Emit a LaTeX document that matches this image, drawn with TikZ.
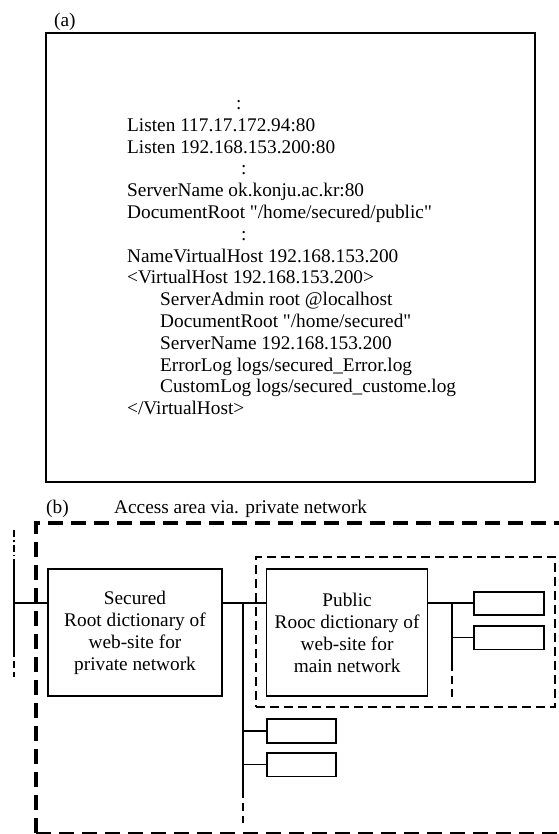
\documentclass[tikz,border=0pt]{standalone}
\usepackage{fontspec}
\setmainfont{Liberation Serif}
\usetikzlibrary{positioning}
\newcommand{\cfgfont}{\fontsize{19.3}{21.8}\selectfont}
\newcommand{\boxfont}{\fontsize{19.3}{22}\selectfont}
\newcommand{\dq}{\textquotedbl}

\begin{document}
\begin{tikzpicture}[x=1pt,y=-1pt]
  \tikzset{
    cfgline/.style={anchor=base west, inner sep=0pt, font=\cfgfont},
    dirbox/.style={
        rectangle, draw, line width=1.6pt, minimum height=127pt,
        align=center, font=\boxfont,
      },
    subbox/.style={rectangle, draw, line width=1.6pt, minimum width=69pt, minimum height=23.5pt, inner sep=0pt},
    link/.style={line width=1.5pt},
    cont/.style={line width=1.5pt, dash pattern=on 8pt off 5pt},
    zone/.style={draw, line width=1.6pt, dash pattern=on 9pt off 5pt},
    outer/.style={line width=3.5pt, dash pattern=on 15pt off 8pt},
  }
  \useasboundingbox (0,0) rectangle (558,834);

  % (a) configuration
  \node[cfgline] (alabel) at (54,27) {(a)};
  \node[draw, line width=1.8pt, minimum width=489pt, minimum height=449pt] (conf) at (290.5,257.5) {};
  \foreach \dx/\txt [count=\i from 0] in {
      109/:, 0/Listen 117.17.172.94:80, 0/Listen 192.168.153.200:80, 114/:,
      0/ServerName ok.konju.ac.kr:80, 0/{DocumentRoot \dq/home/secured/public\dq}, 114/:,
      0/NameVirtualHost 192.168.153.200, 0/{<VirtualHost 192.168.153.200>},
      33/ServerAdmin root @localhost, 33/{DocumentRoot \dq/home/secured\dq},
      33/ServerName 192.168.153.200, 33/{ErrorLog logs/secured\_Error.log},
      33/{CustomLog logs/secured\_custome.log}, 0/{</VirtualHost>}}
    \node[cfgline] (line\i) at (127+\dx,109.5+21.8*\i) {\txt};

  % (b) directories
  \node[cfgline] (blabel) at (46,513) {(b)};
  \node[cfgline] (area) at (114,513) {Access area via. private network};
  \draw[outer] (36,833) |- (562,523);
  \draw[line width=1.5pt, dash pattern=on 15pt off 8pt] (36,833) -- (562,833);
  \node[zone, minimum width=299pt, minimum height=150pt] (pubzone) at (405.5,632) {};

  \node[dirbox, minimum width=174pt] (secured) at (135,632.5)
    {Secured\\Root dictionary of\\web-site for\\private network};
  \node[dirbox, minimum width=161pt, right=43pt of secured] (public)
    {Public\\Rooc dictionary of\\web-site for\\main network};

  \node[subbox] (subA) at (301.5,731) {};
  \node[subbox, below=8.5pt of subA] (subB) {};
  \node[subbox, minimum width=70pt] (pubA) at (509,603.5) {};
  \node[subbox, minimum width=70pt, below=9pt of pubA] (pubB) {};

  \coordinate (bus) at (14,603);
  \coordinate (tapA) at (243,603);
  \coordinate (tapB) at (452,603);

  % left trunk
  \draw[line width=1.2pt, dash pattern=on 7pt off 3pt on 1.5pt off 3pt] (14,530) -- (14,565);
  \draw[link] (14,565) -- (14,650);
  \draw[line width=1.2pt, dash pattern=on 7pt off 4pt] (14,650) -- (14,677);

  \draw[link] (bus) -- (bus -| secured.west);
  \draw[link] (bus -| secured.east) -- (bus -| public.west);
  \draw[link] (tapA) -- (243,790);
  \draw[cont] (243,790) -- (243,823);
  \draw[link] (tapA |- subA.west) -- (subA.west);
  \draw[link] (tapA |- subB.west) -- (subB.west);

  \draw[link] (bus -| public.east) -- (bus -| pubA.west);
  \draw[link] (tapB) -- (452,663);
  \draw[cont] (452,663) -- (452,697);
  \draw[link] (tapB |- pubB.west) -- (pubB.west);
\end{tikzpicture}
\end{document}
